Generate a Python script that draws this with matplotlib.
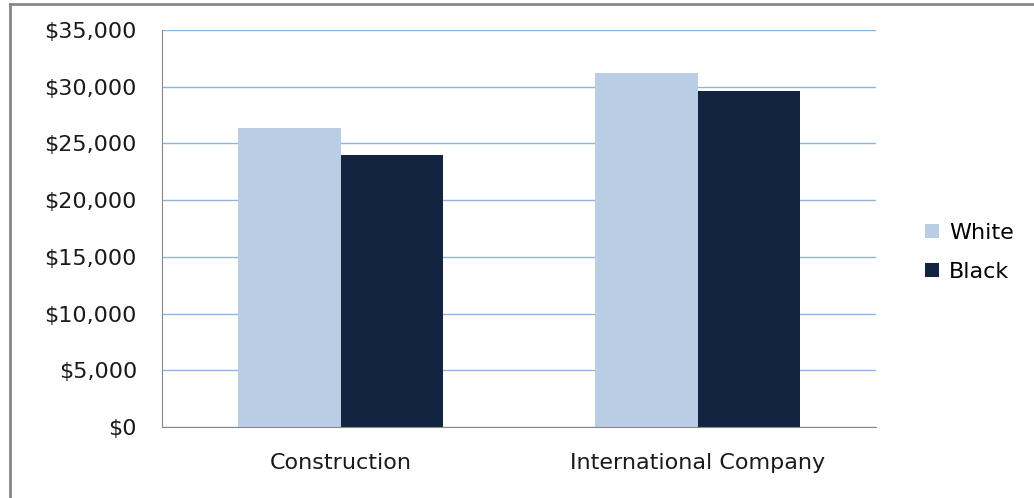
import numpy as np
import matplotlib.pyplot as plt
from matplotlib.lines import Line2D
from matplotlib.ticker import FuncFormatter

# Daten
categories = ['Construction', 'International Company']
white = [26400, 31200]
black = [24000, 29600]

plt.rcParams['font.family'] = ['DejaVu Sans']

fig = plt.figure(figsize=(10.34, 4.98), dpi=100)
ax = fig.add_axes([162 / 1034, 1 - 427 / 498, 714 / 1034, 397 / 498])

x = np.arange(len(categories))
w = 0.286
ax.bar(x - w / 2, white, w, color='#b9cde5', label='White', zorder=2)
ax.bar(x + w / 2, black, w, color='#12243f', label='Black', zorder=2)

ax.set_xlim(-0.5, 1.5)
ax.set_ylim(0, 35000)
ax.set_yticks(np.arange(0, 35001, 5000))
ax.yaxis.set_major_formatter(FuncFormatter(lambda v, p: f'${v:,.0f}'))
ax.set_xticks(x)
ax.set_xticklabels(categories)
ax.grid(axis='y', color='#8eb4e3', linewidth=1, zorder=0)
ax.tick_params(axis='y', length=0, labelsize=16, pad=18, colors='#1a1a1a')
ax.tick_params(axis='x', length=0, labelsize=16, pad=19, colors='#1a1a1a')
for s in ['top', 'right']:
    ax.spines[s].set_visible(False)
for s in ['left', 'bottom']:
    ax.spines[s].set_color('#888888')

ax.legend(loc='center left', bbox_to_anchor=(1.04, 0.44), frameon=False,
          fontsize=16, handlelength=0.65, handleheight=0.65, labelspacing=0.85,
          handletextpad=0.45)

# Rahmen oben und links
fig.add_artist(Line2D([9.5 / 1034, 9.5 / 1034], [0, 1 - 4.5 / 498], color='#888888', lw=2))
fig.add_artist(Line2D([9.5 / 1034, 1], [1 - 4.5 / 498, 1 - 4.5 / 498], color='#888888', lw=2))

fig.savefig('out.png', dpi=100)
